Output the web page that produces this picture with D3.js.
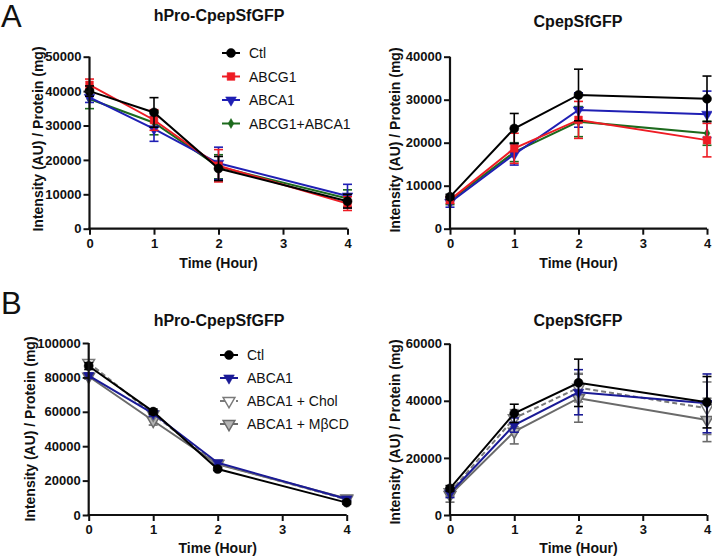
<!DOCTYPE html>
<html><head><meta charset="utf-8">
<script src="https://cdn.jsdelivr.net/npm/d3@7"></script>
<style>
html,body{margin:0;padding:0;background:#fff;}
svg{display:block;font-family:"Liberation Sans",Arial,Helvetica,sans-serif;}
</style></head>
<body>
<svg id="chart" width="712" height="558"></svg>
<script>
// ---------------- DATA ----------------
const timePoints = [0, 1, 2, 4];
const xTicks = [0, 1, 2, 3, 4];

// Panel A – hPro-CpepSfGFP
const aLeftCtl = [40000, 33800, 17500, 8000];
const aLeftCtlErr = [1500, 4300, 3500, 2000];
const aLeftG1 = [41800, 31600, 18300, 7300];
const aLeftG1Err = [1700, 3000, 4700, 2000];
const aLeftA1 = [38200, 29000, 19000, 9500];
const aLeftA1Err = [1500, 3600, 4700, 3400];
const aLeftG1A1 = [37700, 30800, 18000, 8800];
const aLeftG1A1Err = [2800, 3500, 3500, 2500];

// Panel A – CpepSfGFP
const aRightCtl = [7400, 23300, 31100, 30200];
const aRightCtlErr = [600, 3500, 6000, 5300];
const aRightG1 = [6700, 18700, 25300, 20600];
const aRightG1Err = [800, 3500, 4300, 3900];
const aRightA1 = [6100, 17300, 27600, 26600];
const aRightA1Err = [1100, 2500, 4000, 5400];
const aRightG1A1 = [6500, 17800, 24900, 22200];
const aRightG1A1Err = [900, 2200, 3500, 2800];

// Panel B – hPro-CpepSfGFP
const bLeftCtl = [86600, 60100, 26700, 7200];
const bLeftCtlErr = [2000, 1500, 800, 800];
const bLeftA1 = [81000, 59000, 30400, 9300];
const bLeftA1Err = [1500, 1500, 1000, 800];
const bLeftChol = [88500, 58500, 29800, 9000];
const bLeftCholErr = [1500, 1500, 1000, 800];
const bLeftMbcd = [80500, 54800, 29500, 9600];
const bLeftMbcdErr = [1500, 2500, 1000, 800];

// Panel B – CpepSfGFP
const bRightCtl = [9300, 35600, 46300, 39500];
const bRightCtlErr = [1000, 3200, 8300, 9000];
const bRightA1 = [7600, 31500, 43000, 39100];
const bRightA1Err = [1500, 2500, 7900, 10300];
const bRightChol = [8000, 33900, 44600, 37400];
const bRightCholErr = [1500, 3000, 5000, 9200];
const bRightMbcd = [7000, 29200, 40900, 33300];
const bRightMbcdErr = [2500, 4300, 8400, 7600];

const legendA = ["Ctl", "ABCG1", "ABCA1", "ABCG1+ABCA1"];
const legendB = ["Ctl", "ABCA1", "ABCA1 + Chol", "ABCA1 + M\u03B2CD"];
const yTicksA1 = [0, 10000, 20000, 30000, 40000, 50000];
const yTicksA2 = [0, 10000, 20000, 30000, 40000];
const yTicksB1 = [0, 20000, 40000, 60000, 80000, 100000];
const yTicksB2 = [0, 20000, 40000, 60000];
const titleLeft = "hPro-CpepSfGFP";
const titleRight = "CpepSfGFP";
const yLabel = "Intensity (AU) / Protein (mg)";
const xLabel = "Time (Hour)";

// ---------------- STYLES ----------------
const triDown = {draw(ctx, size){ const s=Math.sqrt(size/ (Math.sqrt(3)/4)); const h=s*Math.sqrt(3)/2; ctx.moveTo(-s/2,-h/3); ctx.lineTo(s/2,-h/3); ctx.lineTo(0,2*h/3); ctx.closePath(); }};
const styleCtl = {color:"#000", sym:d3.symbolCircle, size:64, fill:"#000", dash:null};
const styleG1 = {color:"#ee1c24", sym:d3.symbolSquare, size:60, fill:"#ee1c24", dash:null};
const styleA1 = {color:"#1f1fb4", sym:triDown, size:50, fill:"#1f1fb4", dash:null};
const styleG1A1 = {color:"#1d6a1d", sym:d3.symbolDiamond, size:28, fill:"#1d6a1d", dash:null};
const styleA1b = {color:"#1a1a96", sym:triDown, size:50, fill:"#1a1a96", dash:null};
const styleChol = {color:"#7a7a7a", sym:triDown, size:60, fill:"#fff", dash:"5,3"};
const styleMbcd = {color:"#6a6a6a", sym:triDown, size:60, fill:"#b5b5b5", dash:null};

const svg = d3.select("#chart");

function panel(opt){
  const g = svg.append("g");
  const x = d3.scaleLinear().domain([0,4]).range([opt.x0, opt.x1]);
  const y = d3.scaleLinear().domain([0, opt.ymax]).range([opt.y0, opt.y1]);

  const line = d3.line().x((d,i)=>x(timePoints[i])).y(d=>y(d));
  opt.series.slice().reverse().forEach(s=>{
    const st = s.style;
    const sg = g.append("g");
    s.values.forEach((v,i)=>{
      const cx = x(timePoints[i]);
      const lo = y(Math.max(0, v - s.err[i])), hi = y(v + s.err[i]);
      sg.append("line").attr("x1",cx).attr("x2",cx).attr("y1",lo).attr("y2",hi)
        .attr("stroke",st.color).attr("stroke-width",1.6);
      [lo,hi].forEach(yy=>sg.append("line").attr("x1",cx-4.5).attr("x2",cx+4.5).attr("y1",yy).attr("y2",yy)
        .attr("stroke",st.color).attr("stroke-width",1.6));
    });
    sg.append("path").attr("d", line(s.values)).attr("fill","none")
      .attr("stroke",st.color).attr("stroke-width",2)
      .attr("stroke-dasharray", st.dash);
    s.values.forEach((v,i)=>{
      sg.append("path").attr("d", d3.symbol().type(st.sym).size(st.size)())
        .attr("transform",`translate(${x(timePoints[i])},${y(v)})`)
        .attr("fill",st.fill).attr("stroke",st.color).attr("stroke-width", st.fill==="#fff"||st.fill==="#b5b5b5"?1.5:0.5);
    });
  });

  const xa = g.append("g").attr("transform",`translate(0,${opt.y0})`)
    .call(d3.axisBottom(x).tickValues(xTicks).tickSize(6).tickPadding(4).tickFormat(d3.format("d")));
  const ya = g.append("g").attr("transform",`translate(${opt.x0},0)`)
    .call(d3.axisLeft(y).tickValues(opt.yTicks).tickSize(6).tickPadding(2).tickFormat(d3.format("d")));
  [xa,ya].forEach(a=>{
    a.select(".domain").attr("stroke","#111").attr("stroke-width",2.2);
    a.selectAll(".tick line").attr("stroke","#111").attr("stroke-width",2);
    a.selectAll(".tick text").attr("fill","#111").attr("font-size",13).attr("font-weight","bold")
      .style("font-family",'"Liberation Sans",Arial,sans-serif');
  });
  ya.select(".domain").attr("d",`M0,${opt.y0+1}V${opt.y1}`);
  xa.select(".domain").attr("d",`M${opt.x0-1},0H${opt.x1}`);

  g.append("text").attr("x",opt.titleX).attr("y",opt.titleY).attr("text-anchor","middle")
    .attr("font-size",16).attr("font-weight","bold").attr("fill","#111").text(opt.title);
  g.append("text").attr("transform",`translate(${opt.ylabX},${opt.ylabY}) rotate(-90)`)
    .attr("text-anchor","middle").attr("font-size",14).attr("font-weight","bold").attr("fill","#111").text(yLabel);
  g.append("text").attr("x",(opt.x0+opt.x1)/2).attr("y",opt.xlabY).attr("text-anchor","middle")
    .attr("font-size",14).attr("font-weight","bold").attr("fill","#111").text(xLabel);

  if (opt.legend){
    const L = opt.legend;
    opt.series.forEach((s,i)=>{
      const st = s.style, yy = L.y + i*L.dy;
      g.append("line").attr("x1",L.x).attr("x2",L.x+18).attr("y1",yy).attr("y2",yy)
        .attr("stroke",st.color).attr("stroke-width",2).attr("stroke-dasharray",st.dash);
      g.append("path").attr("d", d3.symbol().type(st.sym).size(st.size)())
        .attr("transform",`translate(${L.x+9},${yy})`)
        .attr("fill",st.fill).attr("stroke",st.color).attr("stroke-width", st.fill==="#fff"||st.fill==="#b5b5b5"?1.5:0.5);
      g.append("text").attr("x",L.x+27).attr("y",yy+5).attr("font-size",14).attr("fill","#111").text(L.labels[i]);
    });
  }
}

// Panel letters
svg.append("text").attr("x",1).attr("y",27).attr("font-size",31).attr("fill","#111").text("A");
svg.append("text").attr("x",1).attr("y",314).attr("font-size",31).attr("fill","#111").text("B");

panel({x0:89.5, x1:347.5, y0:228.7, y1:56.7, ymax:50000, yTicks:yTicksA1,
  title:titleLeft, titleX:219, titleY:21, ylabX:43, ylabY:139, xlabY:268,
  series:[{values:aLeftCtl,err:aLeftCtlErr,style:styleCtl},{values:aLeftG1,err:aLeftG1Err,style:styleG1},
          {values:aLeftA1,err:aLeftA1Err,style:styleA1},{values:aLeftG1A1,err:aLeftG1A1Err,style:styleG1A1}],
  legend:{x:222, y:53, dy:23.5, labels:legendA}});

panel({x0:450, x1:707, y0:228.7, y1:56.7, ymax:40000, yTicks:yTicksA2,
  title:titleRight, titleX:578, titleY:27, ylabX:400, ylabY:140, xlabY:268,
  series:[{values:aRightCtl,err:aRightCtlErr,style:styleCtl},{values:aRightG1,err:aRightG1Err,style:styleG1},
          {values:aRightA1,err:aRightA1Err,style:styleA1},{values:aRightG1A1,err:aRightG1A1Err,style:styleG1A1}]});

panel({x0:88.7, x1:346.7, y0:515, y1:343, ymax:100000, yTicks:yTicksB1,
  title:titleLeft, titleX:219, titleY:326, ylabX:35, ylabY:429, xlabY:553,
  series:[{values:bLeftCtl,err:bLeftCtlErr,style:styleCtl},{values:bLeftA1,err:bLeftA1Err,style:styleA1b},
          {values:bLeftChol,err:bLeftCholErr,style:styleChol},{values:bLeftMbcd,err:bLeftMbcdErr,style:styleMbcd}],
  legend:{x:220, y:355, dy:23, labels:legendB}});

panel({x0:450, x1:707, y0:515, y1:343.7, ymax:60000, yTicks:yTicksB2,
  title:titleRight, titleX:578, titleY:326, ylabX:400, ylabY:432, xlabY:553,
  series:[{values:bRightCtl,err:bRightCtlErr,style:styleCtl},{values:bRightA1,err:bRightA1Err,style:styleA1b},
          {values:bRightChol,err:bRightCholErr,style:styleChol},{values:bRightMbcd,err:bRightMbcdErr,style:styleMbcd}]});
</script>
</body></html>
